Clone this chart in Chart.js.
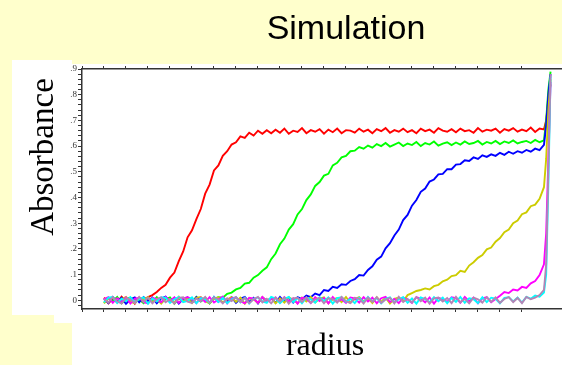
<!DOCTYPE html>
<html>
<head>
<meta charset="utf-8">
<script src="https://cdn.jsdelivr.net/npm/chart.js@4.4.1/dist/chart.umd.min.js"></script>
<style>
  body { margin: 0; background: #ffffcc; }
  canvas { display: block; }
</style>
</head>
<body>
<canvas id="simChart" width="562" height="365"></canvas>
<script>
// radius samples (arbitrary units, one unit per minor tick)
const radius = [
  1.0, 1.2, 1.4, 1.6, 1.8, 2.0, 2.2, 2.4, 2.6, 2.8,
  3.0, 3.2, 3.4, 3.6, 3.8, 4.0, 4.2, 4.4, 4.6, 4.8,
  5.0, 5.2, 5.4, 5.6, 5.8, 6.0, 6.2, 6.4, 6.6, 6.8,
  7.0, 7.2, 7.4, 7.6, 7.8, 8.0, 8.2, 8.4, 8.6, 8.8,
  9.0, 9.2, 9.4, 9.6, 9.8, 10.0, 10.2, 10.4, 10.6, 10.8,
  11.0, 11.2, 11.4, 11.6, 11.8, 12.0, 12.2, 12.4, 12.6, 12.8,
  13.0, 13.2, 13.4, 13.6, 13.8, 14.0, 14.2, 14.4, 14.6, 14.8,
  15.0, 15.2, 15.4, 15.6, 15.8, 16.0, 16.2, 16.4, 16.6, 16.8,
  17.0, 17.2, 17.4, 17.6, 17.8, 18.0, 18.2, 18.4, 18.6, 18.8,
  19.0, 19.2, 19.4, 19.6, 19.8, 20.0, 20.2, 20.4, 20.6, 20.8,
  21.0, 21.1, 21.2, 21.3
];

const redAbs = [
  .01, -.012, .006, -.008, .014, -.004, .009, -.013, .011, .002,
  .012, .02, .032, .048, .06, .088, .108, .152, .19, .245,
  .272, .316, .355, .415, .45, .505, .525, .562, .58, .606,
  .615, .638, .632, .652, .641, .66, .648, .662, .65, .664,
  .652, .668, .648, .66, .655, .67, .65, .662, .656, .666,
  .648, .664, .654, .668, .65, .662, .66, .652, .668, .656,
  .664, .65, .666, .658, .67, .652, .662, .656, .668, .654,
  .662, .65, .668, .658, .664, .652, .67, .66, .656, .666,
  .654, .668, .658, .662, .652, .67, .656, .664, .66, .668,
  .652, .666, .66, .67, .656, .664, .658, .672, .655, .668,
  .665, .7, .78, .84
];

const greenAbs = [
  -.01, .008, -.004, .013, -.012, .005, .01, -.007, .003, -.011,
  .009, -.006, .012, -.01, .004, .011, -.013, .007, -.003, .01,
  -.008, .013, -.005, .009, -.012, .006, .012, .01, .025, .03,
  .042, .048, .065, .068, .088, .098, .115, .128, .16, .182,
  .218, .24, .275, .296, .334, .355, .39, .412, .445, .46,
  .485, .492, .525, .535, .556, .562, .58, .582, .596, .59,
  .602, .594, .608, .6, .612, .598, .606, .614, .6, .61,
  .604, .616, .6, .612, .606, .618, .602, .61, .615, .604,
  .614, .606, .618, .608, .612, .62, .606, .616, .61, .62,
  .608, .618, .612, .622, .61, .616, .62, .612, .624, .615,
  .622, .7, .82, .89
];

const blueAbs = [
  .006, -.011, .013, -.005, .009, -.014, .004, .011, -.008, .012,
  -.004, .01, -.012, .007, .014, -.006, .009, -.013, .005, .011,
  -.009, .012, -.003, .008, -.011, .013, -.006, .01, -.004, .012,
  -.01, .006, .013, -.007, .009, -.012, .011, -.002, .008, -.01,
  .013, -.005, .01, -.009, .012, .004, .018, .012, .026, .02,
  .04, .036, .052, .048, .062, .06, .075, .082, .098, .096,
  .118, .132, .158, .17, .202, .222, .252, .275, .312, .332,
  .368, .39, .422, .435, .462, .47, .49, .492, .51, .51,
  .528, .53, .545, .542, .556, .55, .564, .558, .568, .562,
  .574, .566, .578, .57, .58, .574, .585, .578, .59, .584,
  .605, .68, .8, .88
];

const yellowAbs = [
  -.012, .007, .011, -.009, .004, .013, -.006, -.011, .009, .003,
  .012, -.008, .005, -.013, .01, .002, -.01, .014, -.005, .008,
  -.011, .009, .013, -.004, -.012, .006, .011, -.009, .003, .012,
  -.006, .01, -.013, .008, .004, -.01, .012, -.003, .009, -.012,
  .007, -.009, .012, .002, -.011, .01, -.005, .013, -.008, .006,
  .011, -.012, .004, .009, -.007, .013, -.01, .005, .012, -.004,
  .008, -.011, .012, -.006, .01, -.013, .006, .011, -.004, .02,
  .028, .036, .04, .046, .042, .055, .06, .074, .08, .094,
  .098, .115, .11, .135, .148, .165, .176, .198, .205, .228,
  .242, .265, .275, .3, .31, .335, .342, .366, .372, .395,
  .44, .55, .74, .86
];

const magentaAbs = [
  .004, .012, -.01, .008, -.005, .011, -.013, .006, .01, -.007,
  -.012, .009, .004, -.008, .013, -.003, .011, -.01, .007, .012,
  .005, -.011, .01, -.006, .012, -.009, .003, .014, -.012, .008,
  .011, -.004, -.012, .01, .006, -.01, .013, -.007, .004, .011,
  -.009, .012, -.005, .008, -.013, .01, .006, -.011, .012, -.003,
  .009, -.012, .013, -.006, .004, -.01, .011, .007, -.009, .012,
  -.005, .01, -.012, .008, .013, -.007, .005, -.011, .01, .003,
  -.01, .012, .006, -.008, .011, -.013, .009, .004, -.006, .012,
  .008, -.01, .013, -.004, .01, -.012, .007, .012, -.008, .005,
  .018, .032, .028, .042, .038, .052, .048, .066, .075, .098,
  .14, .26, .55, .85
];

const cyanAbs = [
  -.008, .01, .013, -.011, .006, -.004, .012, -.009, .005, .011,
  -.013, .007, -.005, .012, .009, -.01, .004, .013, -.007, -.002,
  .011, -.012, .008, .005, -.01, .013, -.006, .009, -.011, .004,
  .012, -.008, .01, -.013, .006, .011, -.004, -.01, .013, .007,
  -.011, .005, .013, -.007, .009, -.012, .01, .004, -.009, .012,
  -.004, .011, -.013, .008, .012, -.006, .005, -.011, .01, -.008,
  .013, -.005, .009, -.012, .006, .011, -.009, .004, .012, -.01,
  .007, -.013, .011, .005, -.008, .012, -.004, .01, -.012, .009,
  -.006, .013, -.01, .008, .004, -.011, .012, -.007, .01, .006,
  -.012, .009, .012, -.005, .01, -.009, .013, .006, .018, .014,
  .03, .1, .45, .87
];

const mauveAbs = [
  .005, -.009, .012, -.004, -.013, .008, .003, -.011, .013, -.006,
  .01, -.012, .006, .011, -.008, .004, -.013, .009, .012, -.005,
  -.01, .007, -.004, .013, -.009, .011, .005, -.012, .008, -.003,
  .012, -.007, .009, -.011, .004, .013, -.008, .006, -.012, .01,
  -.005, .011, -.013, .007, .01, -.006, .012, -.01, .004, .009,
  -.012, .008, .005, -.009, .013, -.004, -.011, .01, .006, -.013,
  .011, -.006, .012, -.01, .003, .009, -.012, .013, -.007, .005,
  -.009, .012, -.004, .01, -.013, .007, .011, -.005, .009, -.011,
  .013, -.008, .006, -.012, .01, .004, -.009, .012, -.006, .011,
  -.01, .005, .012, -.007, .009, -.011, .013, .004, .01, .02,
  .04, .14, .5, .88
];

// y tick marks every .02, labels on the tenths
const yTickValues = [
  -.02, 0, .02, .04, .06, .08, .1, .12, .14, .16, .18, .2, .22, .24, .26, .28,
  .3, .32, .34, .36, .38, .4, .42, .44, .46, .48, .5, .52, .54, .56, .58,
  .6, .62, .64, .66, .68, .7, .72, .74, .76, .78, .8, .82, .84, .86, .88, .9
];

function toPoints(values) {
  return values.map((v, i) => ({ x: radius[i], y: v }));
}

function series(values, color) {
  return {
    data: toPoints(values),
    borderColor: color,
    borderWidth: 1.9,
    pointRadius: 0,
    tension: 0,
    fill: false
  };
}

// yellow slide background with the white panels, title and axis names
const slidePlugin = {
  id: 'slide',
  beforeDraw(chart) {
    const ctx = chart.ctx;
    ctx.save();
    ctx.fillStyle = '#ffffcc';
    ctx.fillRect(0, 0, 562, 365);
    ctx.fillStyle = '#ffffff';
    ctx.fillRect(12, 60, 60, 255);
    ctx.fillRect(54, 315, 18, 8);
    ctx.fillRect(72, 64, 490, 301);

    ctx.fillStyle = '#000000';
    ctx.textAlign = 'center';
    ctx.textBaseline = 'alphabetic';
    ctx.font = '34px "Liberation Sans", Arial, sans-serif';
    ctx.fillText('Simulation', 346, 39);

    ctx.font = '32px "Liberation Serif", "Times New Roman", serif';
    ctx.fillText('radius', 325, 355);

    ctx.translate(53, 157);
    ctx.rotate(-Math.PI / 2);
    ctx.font = '33px "Liberation Serif", "Times New Roman", serif';
    ctx.fillText('Absorbance', 0, 0);
    ctx.restore();
  }
};

const axisColor = '#333333';

const xAxis = (position, height) => ({
  type: 'linear',
  position: position,
  min: 0,
  max: 21.82,
  ticks: { display: false, stepSize: 1 },
  grid: { drawOnChartArea: false, drawTicks: true, tickLength: 3, color: axisColor },
  border: { color: axisColor, width: 1.5 },
  afterFit(scale) { scale.height = height; }
});

new Chart(document.getElementById('simChart'), {
  type: 'line',
  data: {
    datasets: [
      series(mauveAbs, '#b584b5'),
      series(cyanAbs, '#00ffff'),
      series(magentaAbs, '#ff00ff'),
      series(yellowAbs, '#cccc00'),
      series(blueAbs, '#0000ff'),
      series(greenAbs, '#00ff00'),
      series(redAbs, '#ff0000')
    ]
  },
  options: {
    responsive: false,
    animation: false,
    devicePixelRatio: 1,
    layout: { padding: 0 },
    scales: {
      x: xAxis('bottom', 56),
      xTop: xAxis('top', 69),
      y: {
        type: 'linear',
        position: 'left',
        min: -0.034,
        max: 0.9,
        afterBuildTicks(scale) {
          scale.ticks = yTickValues.map(v => ({ value: v }));
        },
        ticks: {
          autoSkip: false,
          padding: 1,
          color: '#333333',
          font: { family: '"Liberation Serif", serif', size: 9 },
          callback(value) {
            const tenth = Math.round(value * 10);
            if (Math.abs(value * 10 - tenth) > 1e-6 || value < 0) return '';
            return tenth === 0 ? '0' : '.' + tenth;
          }
        },
        grid: { drawOnChartArea: false, drawTicks: true, tickLength: 4, color: axisColor },
        border: { color: axisColor, width: 1.5 },
        afterFit(scale) { scale.width = 82; }
      }
    },
    plugins: {
      legend: { display: false },
      tooltip: { enabled: false },
      title: { display: false }
    }
  },
  plugins: [slidePlugin]
});
</script>
</body>
</html>
